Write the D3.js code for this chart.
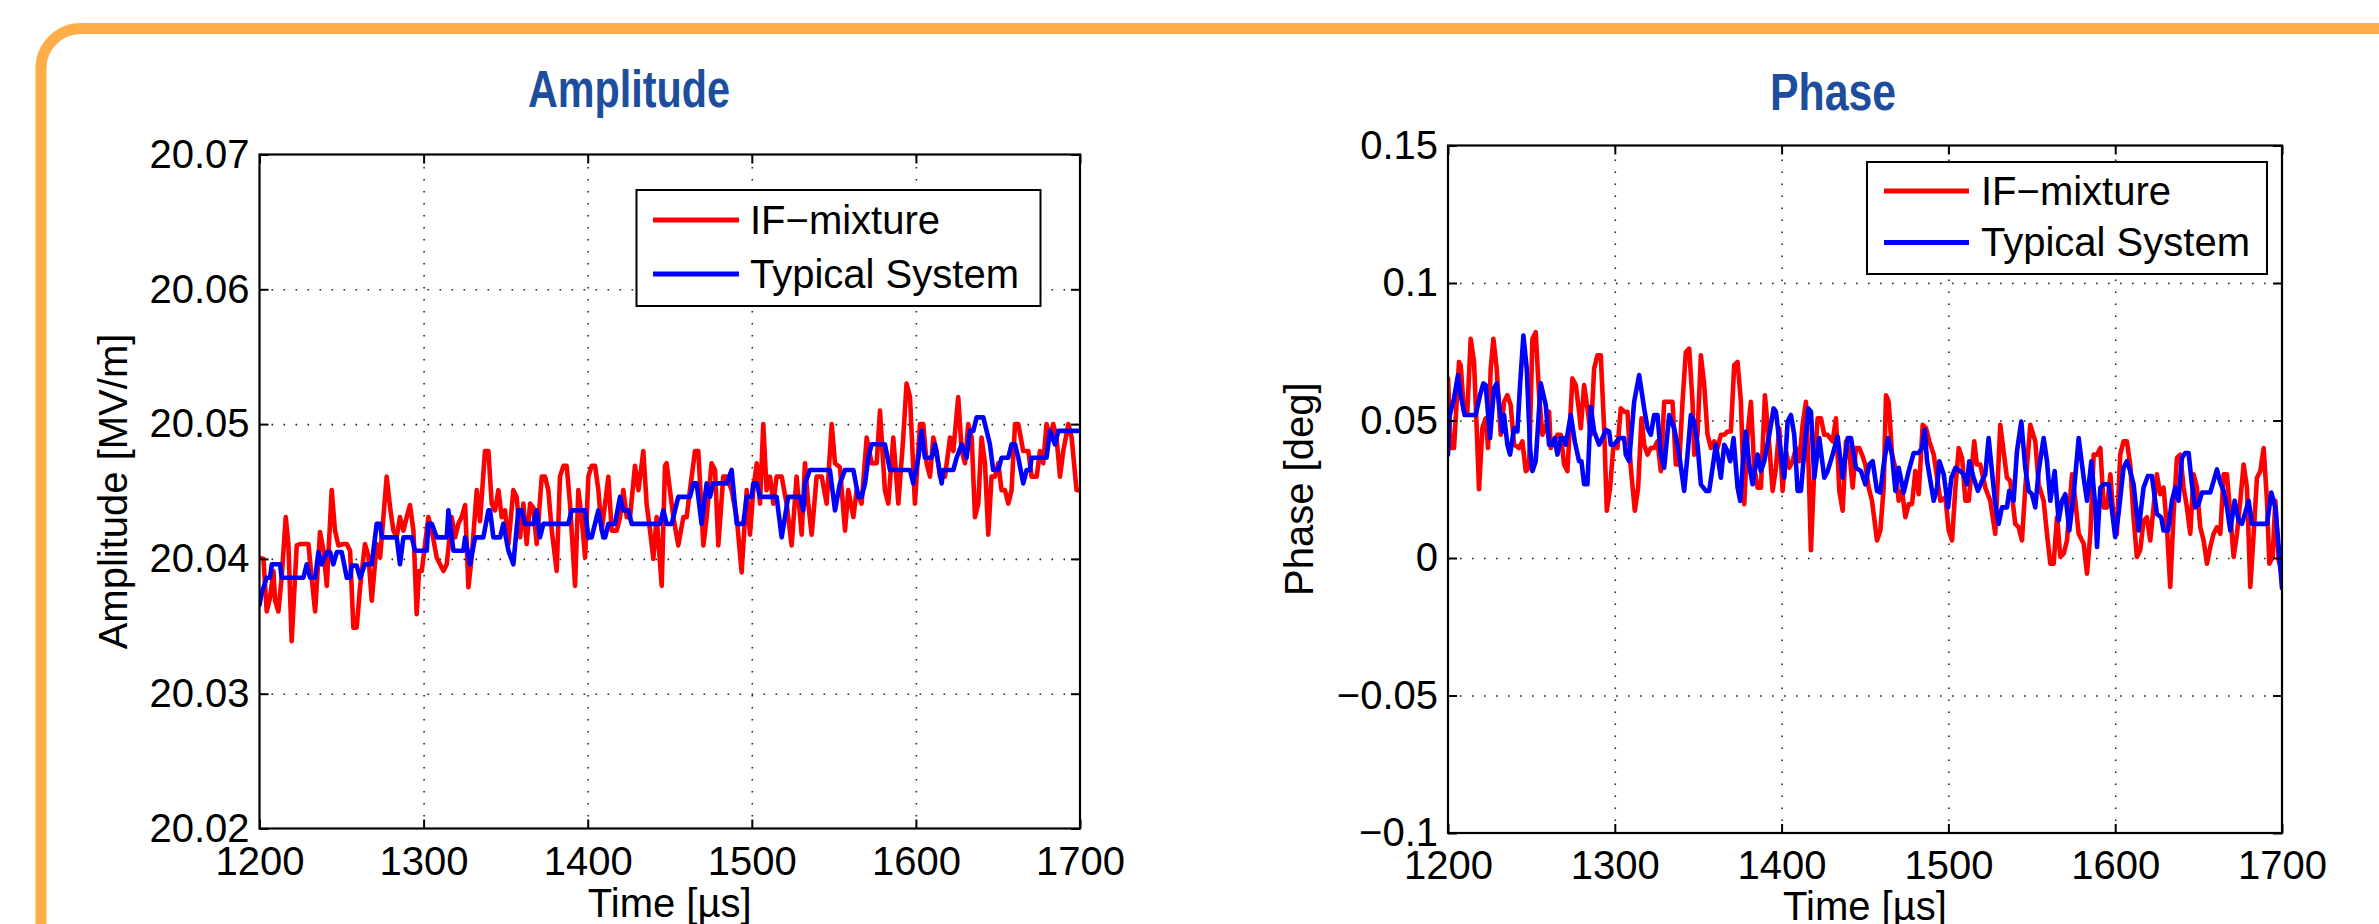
<!DOCTYPE html>
<html>
<head>
<meta charset="utf-8">
<script src="https://cdn.jsdelivr.net/npm/d3@7"></script>
<style>
html,body{margin:0;padding:0;background:#fff;}
svg{display:block;}
text{font-family:"Liberation Sans",Arial,Helvetica,sans-serif;}
</style>
</head>
<body>
<svg id="chart" width="2379" height="924"></svg>
<script>
// ---------------- DATA ----------------
const timeTicks = [1200, 1300, 1400, 1500, 1600, 1700];
const timeTickLabels = ["1200", "1300", "1400", "1500", "1600", "1700"];
const ampTicks = [20.02, 20.03, 20.04, 20.05, 20.06, 20.07];
const ampTickLabels = ["20.02", "20.03", "20.04", "20.05", "20.06", "20.07"];
const phaseTicks = [-0.1, -0.05, 0, 0.05, 0.1, 0.15];
const phaseTickLabels = ["\u22120.1", "\u22120.05", "0", "0.05", "0.1", "0.15"];
const seriesNames = ["IF\u2212mixture", "Typical System"];
const panelTitles = ["Amplitude", "Phase"];
const yAxisTitles = ["Amplitude [MV/m]", "Phase [deg]"];
const xAxisTitle = "Time [\u00b5s]";

// Amplitude, IF-mixture  [time µs, MV/m]
const ampIF = [[1200,20.0401],[1202.4,20.0400],[1204.4,20.0361],[1206.4,20.0371],[1208.5,20.0391],[1209.5,20.0369],[1211.5,20.0361],[1213.5,20.0386],[1216,20.0431],[1217.6,20.0411],[1219.6,20.0339],[1222.7,20.0410],[1224.7,20.0411],[1229.8,20.0411],[1231.8,20.0386],[1233.9,20.0361],[1236.9,20.0420],[1239,20.0406],[1241,20.0380],[1244,20.0451],[1246,20.0421],[1248.1,20.0410],[1251.1,20.0411],[1253.2,20.0411],[1255.2,20.0406],[1257.2,20.0349],[1259.2,20.0349],[1261.3,20.0379],[1264.3,20.0411],[1266.4,20.0402],[1268.4,20.0369],[1271.4,20.0411],[1273.5,20.0401],[1277.5,20.0461],[1279.6,20.0438],[1281.6,20.0421],[1283.6,20.0416],[1285.6,20.0431],[1287.7,20.0421],[1289.7,20.0431],[1291.7,20.0440],[1293.8,20.0421],[1295.8,20.0359],[1297.2,20.0391],[1298.9,20.0391],[1300.9,20.0411],[1302.9,20.0431],[1305,20.0421],[1308,20.0401],[1310,20.0396],[1312.1,20.0391],[1314.1,20.0396],[1317.1,20.0431],[1319.2,20.0416],[1321.2,20.0426],[1323.2,20.0431],[1325.3,20.0440],[1327.3,20.0379],[1329.3,20.0401],[1332.4,20.0451],[1334.4,20.0428],[1337.4,20.0480],[1339.5,20.0480],[1341.5,20.0441],[1343.5,20.0436],[1345.6,20.0451],[1347.6,20.0431],[1349.6,20.0436],[1351.7,20.0411],[1354.7,20.0451],[1356.7,20.0446],[1358.8,20.0416],[1360.8,20.0441],[1362.8,20.0411],[1364.9,20.0441],[1366.9,20.0438],[1368.9,20.0411],[1372,20.0461],[1374,20.0461],[1376,20.0451],[1378.1,20.0421],[1381.1,20.0391],[1383.1,20.0461],[1385.2,20.0469],[1387.2,20.0469],[1389.2,20.0441],[1392.3,20.0380],[1394.3,20.0451],[1396.3,20.0431],[1398.4,20.0401],[1400.4,20.0461],[1402.4,20.0469],[1404.5,20.0469],[1406.5,20.0451],[1408.5,20.0421],[1410.6,20.0441],[1412.6,20.0461],[1414.6,20.0421],[1417.7,20.0421],[1419.7,20.0431],[1421.7,20.0451],[1423.8,20.0431],[1425.8,20.0431],[1428.8,20.0469],[1430.9,20.0451],[1433.9,20.0480],[1435.9,20.0441],[1438,20.0421],[1440,20.0400],[1442,20.0431],[1445.1,20.0380],[1447.1,20.0469],[1448.1,20.0471],[1450.1,20.0451],[1452.2,20.0431],[1455.2,20.0410],[1458.3,20.0431],[1460.3,20.0431],[1462.3,20.0451],[1465.4,20.0480],[1467.4,20.0480],[1470.5,20.0410],[1472.5,20.0431],[1475.5,20.0471],[1477.6,20.0466],[1479.6,20.0410],[1482.6,20.0461],[1484.7,20.0461],[1487.7,20.0451],[1490.8,20.0431],[1493.8,20.0390],[1496.9,20.0451],[1498.9,20.0418],[1500.9,20.0451],[1503,20.0471],[1505,20.0441],[1507,20.0500],[1509,20.0451],[1511.1,20.0461],[1513.1,20.0441],[1515.1,20.0461],[1518.2,20.0461],[1521.2,20.0441],[1524.3,20.0410],[1527.3,20.0461],[1530.4,20.0418],[1532.4,20.0471],[1534.4,20.0441],[1536.5,20.0418],[1539.5,20.0461],[1542.6,20.0461],[1545.6,20.0441],[1548.7,20.0500],[1550.7,20.0471],[1553.7,20.0468],[1556.8,20.0421],[1558.8,20.0451],[1561.9,20.0431],[1563.9,20.0451],[1566.9,20.0441],[1570,20.0490],[1573,20.0471],[1576.1,20.0471],[1578.1,20.0510],[1581.1,20.0451],[1583.2,20.0441],[1586.2,20.0490],[1589.3,20.0441],[1592.3,20.0490],[1594.3,20.0530],[1596.4,20.0520],[1599.4,20.0441],[1602.5,20.0500],[1604.5,20.0500],[1606.5,20.0471],[1608.6,20.0461],[1610.6,20.0490],[1612.6,20.0480],[1614.7,20.0461],[1617.7,20.0461],[1620.8,20.0490],[1622.8,20.0480],[1625.8,20.0520],[1627.9,20.0480],[1629.9,20.0471],[1631.9,20.0500],[1634,20.0490],[1636,20.0431],[1638,20.0441],[1640,20.0490],[1642.1,20.0471],[1644.1,20.0418],[1646.1,20.0461],[1648.2,20.0461],[1650.2,20.0471],[1652.2,20.0451],[1654.3,20.0451],[1656.3,20.0441],[1658.3,20.0451],[1660.4,20.0500],[1662.4,20.0500],[1665.4,20.0480],[1668.5,20.0480],[1670.5,20.0461],[1673.6,20.0461],[1675.6,20.0480],[1677.6,20.0471],[1679.6,20.0500],[1681.7,20.0490],[1683.7,20.0500],[1685.7,20.0490],[1687.8,20.0461],[1689.8,20.0480],[1692.9,20.0500],[1694.9,20.0490],[1697.9,20.0451],[1700,20.0451]];

// Amplitude, Typical System
const ampTS = [[1200,20.0366],[1201.4,20.0375],[1204.4,20.0386],[1206.4,20.0386],[1207.5,20.0396],[1212.5,20.0396],[1213.5,20.0386],[1226.7,20.0386],[1228.8,20.0396],[1230.8,20.0386],[1233.9,20.0386],[1235.9,20.0405],[1237.9,20.0396],[1241,20.0405],[1243,20.0405],[1245,20.0396],[1247.1,20.0405],[1250.1,20.0405],[1253.2,20.0386],[1255.2,20.0386],[1256.2,20.0395],[1259.2,20.0395],[1261.3,20.0386],[1264.3,20.0396],[1268.4,20.0396],[1271.4,20.0426],[1273.5,20.0426],[1274.5,20.0416],[1283.6,20.0416],[1285.6,20.0396],[1287.7,20.0416],[1292.8,20.0416],[1294.8,20.0406],[1301.9,20.0406],[1302.9,20.0426],[1305,20.0426],[1308,20.0416],[1314.1,20.0416],[1315.1,20.0436],[1318.2,20.0406],[1324.2,20.0406],[1325.3,20.0416],[1328.3,20.0396],[1331.4,20.0416],[1336.4,20.0416],[1339.5,20.0436],[1340.5,20.0436],[1342.5,20.0416],[1346.6,20.0416],[1348.6,20.0426],[1351.7,20.0406],[1354.7,20.0396],[1357.7,20.0436],[1359.8,20.0436],[1361.8,20.0426],[1366.9,20.0426],[1368.9,20.0436],[1370.9,20.0416],[1373,20.0426],[1388.2,20.0426],[1390.2,20.0436],[1398.4,20.0436],[1400.4,20.0416],[1402.4,20.0416],[1406.5,20.0436],[1409.5,20.0416],[1410.6,20.0416],[1412.6,20.0426],[1416.6,20.0426],[1419.7,20.0446],[1421.7,20.0436],[1424.8,20.0436],[1426.8,20.0426],[1444.1,20.0426],[1446.1,20.0436],[1448.1,20.0426],[1451.2,20.0426],[1453.2,20.0436],[1455.2,20.0446],[1462.3,20.0446],[1464.4,20.0456],[1466.4,20.0456],[1469.4,20.0426],[1472.5,20.0456],[1474.5,20.0446],[1476.5,20.0456],[1484.7,20.0456],[1487.7,20.0466],[1490.8,20.0426],[1494.8,20.0426],[1496.9,20.0446],[1499.9,20.0446],[1500.9,20.0456],[1503,20.0456],[1505,20.0446],[1515.1,20.0446],[1518.2,20.0416],[1522.2,20.0446],[1529.4,20.0446],[1531.4,20.0436],[1532.4,20.0456],[1535.4,20.0466],[1547.6,20.0466],[1550.7,20.0436],[1553.7,20.0456],[1556.8,20.0466],[1561.9,20.0466],[1564.9,20.0446],[1566.9,20.0446],[1569,20.0456],[1571,20.0475],[1573,20.0485],[1581.1,20.0485],[1584.2,20.0466],[1596.4,20.0466],[1598.4,20.0456],[1601.5,20.0475],[1603.5,20.0495],[1605.5,20.0475],[1609.6,20.0475],[1611.6,20.0485],[1615.7,20.0456],[1616.7,20.0466],[1622.8,20.0466],[1624.8,20.0475],[1627.9,20.0485],[1630.9,20.0475],[1632.9,20.0495],[1635,20.0495],[1637,20.0505],[1641.1,20.0505],[1643.1,20.0495],[1645.1,20.0485],[1647.1,20.0466],[1650.2,20.0466],[1652.2,20.0475],[1656.3,20.0475],[1658.3,20.0485],[1660.4,20.0485],[1662.4,20.0475],[1665.4,20.0456],[1667.5,20.0466],[1669.5,20.0466],[1670.5,20.0475],[1679.6,20.0475],[1681.7,20.0495],[1684.7,20.0485],[1686.8,20.0495],[1700,20.0495]];

// Phase, IF-mixture  [time µs, deg]
const phIF = [[1200,0.0653],[1201.6,0.0400],[1203.6,0.0400],[1206.6,0.0713],[1207.6,0.0701],[1209.6,0.0532],[1211.6,0.0532],[1213.6,0.0797],[1215.6,0.0713],[1217.2,0.0472],[1218.6,0.0250],[1220.6,0.0472],[1222.6,0.0508],[1224,0.0400],[1225.6,0.0689],[1227.2,0.0797],[1229.2,0.0689],[1231.6,0.0448],[1233.6,0.0568],[1235.6,0.0592],[1237.6,0.0556],[1239.6,0.0412],[1242.6,0.0400],[1244.6,0.0424],[1246.6,0.0316],[1248.6,0.0328],[1250.6,0.0797],[1252.6,0.0821],[1254.6,0.0592],[1256.6,0.0448],[1258.6,0.0472],[1260.6,0.0532],[1261.6,0.0400],[1265.6,0.0448],[1267.6,0.0448],[1269.6,0.0340],[1271.6,0.0316],[1274.6,0.0653],[1276.6,0.0629],[1278.6,0.0532],[1279.6,0.0472],[1281.6,0.0629],[1283.6,0.0544],[1285.6,0.0448],[1287.6,0.0689],[1289.6,0.0737],[1291.6,0.0737],[1293.6,0.0472],[1295.2,0.0172],[1297.2,0.0256],[1299.2,0.0412],[1301.6,0.0400],[1303.6,0.0544],[1305.6,0.0532],[1307.6,0.0532],[1309.6,0.0328],[1312,0.0172],[1314,0.0256],[1316,0.0508],[1317.6,0.0412],[1319.6,0.0376],[1321.6,0.0400],[1323.6,0.0400],[1325.6,0.0424],[1327.6,0.0316],[1329.6,0.0568],[1331.6,0.0568],[1334.6,0.0568],[1336.6,0.0340],[1338.6,0.0340],[1340.6,0.0568],[1342.6,0.0749],[1344.6,0.0761],[1346.6,0.0568],[1347.6,0.0376],[1349.6,0.0448],[1351.6,0.0737],[1353.6,0.0629],[1355.6,0.0448],[1357.6,0.0400],[1359.6,0.0424],[1361.6,0.0400],[1363.6,0.0448],[1365.6,0.0448],[1367.6,0.0460],[1369.6,0.0460],[1371.6,0.0701],[1373.6,0.0713],[1375.6,0.0568],[1377.6,0.0196],[1379.6,0.0448],[1381.6,0.0568],[1383.6,0.0328],[1385.6,0.0256],[1387.6,0.0256],[1390,0.0592],[1392.6,0.0412],[1394.6,0.0244],[1396.6,0.0328],[1398.6,0.0472],[1400.6,0.0244],[1402.6,0.0388],[1404.6,0.0328],[1406.6,0.0352],[1408.6,0.0400],[1410.6,0.0352],[1412.6,0.0484],[1414.6,0.0568],[1416.2,0.0328],[1417.6,0.0028],[1419.6,0.0328],[1421.6,0.0508],[1423.6,0.0508],[1425.6,0.0448],[1427.6,0.0448],[1430.6,0.0424],[1432.6,0.0508],[1434.6,0.0244],[1436.6,0.0172],[1438.6,0.0424],[1440.6,0.0388],[1442.6,0.0256],[1444.6,0.0400],[1446.6,0.0400],[1448.2,0.0376],[1450.2,0.0340],[1452.2,0.0256],[1454.2,0.0208],[1457.2,0.0064],[1459.2,0.0100],[1461.2,0.0256],[1462.6,0.0592],[1464.2,0.0568],[1466.2,0.0376],[1468.2,0.0328],[1470.2,0.0208],[1472.2,0.0244],[1474.2,0.0148],[1476.2,0.0196],[1478.2,0.0196],[1480.2,0.0316],[1482.2,0.0232],[1484.6,0.0484],[1486.6,0.0472],[1488.6,0.0424],[1491.2,0.0376],[1495.2,0.0208],[1498.2,0.0220],[1500.2,0.0100],[1502.2,0.0064],[1504.2,0.0256],[1506.2,0.0400],[1508.2,0.0364],[1510.2,0.0208],[1512.2,0.0208],[1515.5,0.0424],[1517.1,0.0340],[1519.1,0.0340],[1522.1,0.0256],[1525.1,0.0208],[1528.1,0.0088],[1531.1,0.0484],[1533.1,0.0388],[1535.1,0.0292],[1537.1,0.0280],[1540.1,0.0124],[1542.1,0.0112],[1544.1,0.0064],[1546.1,0.0256],[1549.1,0.0484],[1552.1,0.0424],[1554.1,0.0268],[1557.1,0.0208],[1559.1,0.0088],[1561.1,-0.0021],[1563.1,-0.0021],[1565.1,0.0148],[1567.1,0.0004],[1569.1,0.0016],[1571.1,0.0064],[1574.1,0.0304],[1576.1,0.0208],[1578.1,0.0088],[1581.1,0.0052],[1583.1,-0.0057],[1585.1,0.0088],[1587.1,0.0376],[1589.1,0.0376],[1591.1,0.0400],[1593.1,0.0184],[1595.1,0.0184],[1597.1,0.0304],[1599.1,0.0136],[1601,0.0088],[1603,0.0376],[1605,0.0424],[1607,0.0424],[1609,0.0340],[1611,0.0148],[1613,0.0004],[1615,0.0028],[1617,0.0136],[1619,0.0148],[1621,0.0064],[1623,0.0184],[1625,0.0304],[1627,0.0232],[1629,0.0256],[1631,0.0112],[1633,-0.0105],[1635,0.0160],[1637,0.0364],[1639,0.0376],[1641,0.0256],[1643,0.0184],[1645,0.0088],[1647,0.0304],[1649,0.0256],[1651,0.0112],[1653,0.0064],[1655,-0.0021],[1657,0.0040],[1659,0.0088],[1661,0.0112],[1663,0.0088],[1665,0.0304],[1667,0.0304],[1669,0.0160],[1671,0.0004],[1673,0.0088],[1675,0.0208],[1677,0.0340],[1679,0.0256],[1681,-0.0105],[1683,0.0088],[1685,0.0292],[1687,0.0316],[1689,0.0400],[1691,0.0208],[1692.4,-0.0021],[1694.4,0.0004],[1696,0.0208],[1698,-0.0009],[1700,-0.0057]];

// Phase, Typical System
const phTS = [[1200,0.0376],[1200.6,0.0508],[1203.6,0.0580],[1206,0.0665],[1207.6,0.0592],[1210,0.0520],[1216.6,0.0520],[1219.2,0.0592],[1221.2,0.0635],[1222.6,0.0629],[1225.2,0.0436],[1227.6,0.0617],[1229.2,0.0635],[1231.2,0.0532],[1232.6,0.0460],[1233.6,0.0520],[1235.6,0.0412],[1237.2,0.0376],[1239.6,0.0472],[1241.6,0.0460],[1243.2,0.0629],[1245.2,0.0809],[1247.2,0.0689],[1249.2,0.0400],[1250.6,0.0316],[1252.6,0.0352],[1255.6,0.0635],[1258.6,0.0556],[1260.6,0.0412],[1262.6,0.0412],[1264,0.0436],[1265.6,0.0376],[1267.6,0.0436],[1269.6,0.0436],[1270.6,0.0412],[1273.6,0.0520],[1276,0.0424],[1278.6,0.0352],[1280,0.0352],[1281.6,0.0268],[1283.6,0.0268],[1285.6,0.0550],[1287.6,0.0460],[1290.6,0.0412],[1292.6,0.0436],[1294.6,0.0466],[1296.6,0.0460],[1297.6,0.0412],[1299.6,0.0412],[1302.6,0.0436],[1305.6,0.0436],[1306.6,0.0376],[1308.6,0.0352],[1311.6,0.0568],[1314.6,0.0665],[1317.6,0.0544],[1319.6,0.0472],[1321.6,0.0448],[1323.6,0.0520],[1325.6,0.0520],[1327.6,0.0376],[1329.6,0.0328],[1332.6,0.0520],[1335.6,0.0472],[1338.6,0.0376],[1341.6,0.0244],[1343.6,0.0376],[1345.6,0.0520],[1347.6,0.0496],[1349.6,0.0412],[1351.6,0.0268],[1354.6,0.0244],[1356.6,0.0244],[1360.6,0.0412],[1363.6,0.0292],[1365.6,0.0412],[1367.6,0.0388],[1369.2,0.0352],[1371.2,0.0436],[1373.6,0.0256],[1375.2,0.0208],[1377.6,0.0412],[1378.6,0.0460],[1380.6,0.0340],[1382.6,0.0268],[1385.6,0.0376],[1387.6,0.0316],[1389.6,0.0352],[1392.6,0.0448],[1395.2,0.0544],[1396.6,0.0532],[1399.6,0.0376],[1401.6,0.0292],[1403.6,0.0496],[1405.6,0.0520],[1407.6,0.0448],[1409.6,0.0244],[1411.6,0.0244],[1413.6,0.0388],[1416,0.0544],[1417.6,0.0532],[1419.6,0.0292],[1422.6,0.0436],[1425.6,0.0292],[1427.6,0.0316],[1430.6,0.0376],[1433.6,0.0442],[1436.6,0.0292],[1439.6,0.0436],[1441.6,0.0436],[1444.6,0.0328],[1447.6,0.0316],[1450.2,0.0268],[1452.6,0.0340],[1454.6,0.0352],[1457.2,0.0244],[1459.2,0.0238],[1461.2,0.0340],[1463.8,0.0436],[1466.2,0.0376],[1468.2,0.0244],[1470.2,0.0328],[1473.2,0.0238],[1476.2,0.0316],[1479.2,0.0382],[1482.2,0.0382],[1484.2,0.0400],[1485.8,0.0466],[1487.2,0.0352],[1489.2,0.0280],[1491.2,0.0208],[1493.2,0.0256],[1494.6,0.0352],[1497.2,0.0304],[1499.8,0.0184],[1501.8,0.0292],[1504.2,0.0328],[1507.1,0.0316],[1509.1,0.0304],[1511.1,0.0268],[1512.5,0.0352],[1515.1,0.0292],[1517.7,0.0244],[1520.1,0.0280],[1522.1,0.0304],[1524.1,0.0436],[1526.5,0.0292],[1528.1,0.0196],[1530.1,0.0124],[1532.1,0.0184],[1535.1,0.0184],[1536.5,0.0244],[1539.1,0.0208],[1541.1,0.0388],[1543.7,0.0496],[1546.1,0.0328],[1548.1,0.0244],[1550.1,0.0232],[1552.1,0.0184],[1554.1,0.0316],[1557.1,0.0436],[1559.1,0.0352],[1561.1,0.0208],[1563.7,0.0316],[1566.1,0.0136],[1568.1,0.0208],[1570.1,0.0232],[1572.5,0.0100],[1575.1,0.0232],[1578.1,0.0436],[1581.1,0.0292],[1583.1,0.0208],[1585.7,0.0352],[1588.1,0.0184],[1589.1,0.0040],[1591.1,0.0256],[1593.1,0.0268],[1596.1,0.0268],[1598.1,0.0172],[1600,0.0076],[1602,0.0160],[1605,0.0328],[1607,0.0352],[1609,0.0316],[1611,0.0268],[1614,0.0100],[1617,0.0256],[1619.6,0.0298],[1622,0.0298],[1625,0.0160],[1627.6,0.0148],[1629,0.0100],[1631.6,0.0100],[1634,0.0208],[1636,0.0256],[1638,0.0208],[1640,0.0364],[1642,0.0382],[1644,0.0382],[1646,0.0268],[1648,0.0184],[1650,0.0196],[1652,0.0238],[1657,0.0238],[1661,0.0322],[1663,0.0274],[1665,0.0244],[1667,0.0184],[1669,0.0100],[1671.6,0.0208],[1674,0.0136],[1676,0.0124],[1680,0.0208],[1682,0.0124],[1691,0.0124],[1693.6,0.0238],[1696,0.0184],[1698,0.0040],[1700,-0.0110]];

// ---------------- DRAWING ----------------
const svg = d3.select("#chart");
svg.append("rect").attr("width", 2379).attr("height", 924).attr("fill", "#fff");

// orange rounded frame (continues past right and bottom edges)
svg.append("rect")
  .attr("x", 41).attr("y", 28.5)
  .attr("width", 2420).attr("height", 960)
  .attr("rx", 40).attr("ry", 40)
  .attr("fill", "none").attr("stroke", "#FFAD48").attr("stroke-width", 11);

const colors = ["#FF0000", "#0000FF"];
const fontSize = 40;

const panels = [
  {
    title: panelTitles[0], yTitle: yAxisTitles[0],
    x0: 259.5, x1: 1080, y0: 828.5, y1: 154.5,
    yDomain: [20.02, 20.07], yTicks: ampTicks, yLabels: ampTickLabels,
    series: [ampIF, ampTS],
    titleX: 528, titleY: 107, titleW: 202,
    yTitleX: 127, xTitleY: 917,
    legend: {x: 636.5, y: 190, w: 404, h: 116, row1: 220, row2: 274, lx0: 653, lx1: 739, tx: 750}
  },
  {
    title: panelTitles[1], yTitle: yAxisTitles[1],
    x0: 1448, x1: 2282, y0: 833, y1: 145.5,
    yDomain: [-0.1, 0.15], yTicks: phaseTicks, yLabels: phaseTickLabels,
    series: [phIF, phTS],
    titleX: 1770, titleY: 110, titleW: 126,
    yTitleX: 1313, xTitleY: 920,
    legend: {x: 1867, y: 162, w: 400, h: 112, row1: 191, row2: 242.5, lx0: 1884, lx1: 1969, tx: 1981}
  }
];

panels.forEach((p, pi) => {
  const x = d3.scaleLinear().domain([1200, 1700]).range([p.x0, p.x1]);
  const y = d3.scaleLinear().domain(p.yDomain).range([p.y0, p.y1]);
  const W = p.x1 - p.x0, H = p.y0 - p.y1;
  const g = svg.append("g");

  // title
  g.append("text")
    .attr("x", p.titleX).attr("y", p.titleY)
    .attr("font-size", 51).attr("font-weight", "bold")
    .attr("fill", "#1D4E9E")
    .attr("textLength", p.titleW).attr("lengthAdjust", "spacingAndGlyphs")
    .text(p.title);

  // dotted grid
  const gridX = g.append("g").attr("transform", `translate(0,${p.y0})`)
    .call(d3.axisBottom(x).tickValues(timeTicks.slice(1, -1)).tickSize(-H).tickFormat(""));
  const gridY = g.append("g").attr("transform", `translate(${p.x0},0)`)
    .call(d3.axisLeft(y).tickValues(p.yTicks.slice(1, -1)).tickSize(-W).tickFormat(""));
  [gridX, gridY].forEach(gg => {
    gg.select(".domain").remove();
    gg.selectAll("line").attr("stroke", "#222").attr("stroke-width", 1.6)
      .attr("stroke-dasharray", "1.6,10.4");
  });

  // clip
  const clipId = "clip" + pi;
  svg.append("clipPath").attr("id", clipId)
    .append("rect").attr("x", p.x0).attr("y", p.y1).attr("width", W).attr("height", H);

  const line = d3.line().x(d => x(d[0])).y(d => y(d[1]));
  const lines = g.append("g").attr("clip-path", `url(#${clipId})`);
  p.series.forEach((s, si) => {
    lines.append("path").datum(s)
      .attr("d", line)
      .attr("fill", "none")
      .attr("stroke", colors[si])
      .attr("stroke-width", 4.6)
      .attr("stroke-linejoin", "round")
      .attr("stroke-linecap", "round");
  });

  // axes: bottom with labels, left with labels, top/right ticks only (all ticks inward)
  const axB = g.append("g").attr("transform", `translate(0,${p.y0})`)
    .call(d3.axisBottom(x).tickValues(timeTicks).tickFormat((d, i) => timeTickLabels[i])
      .tickSizeInner(-9).tickSizeOuter(0).tickPadding(17.6));
  const axT = g.append("g").attr("transform", `translate(0,${p.y1})`)
    .call(d3.axisTop(x).tickValues(timeTicks).tickFormat("").tickSizeInner(-9).tickSizeOuter(0));
  const axL = g.append("g").attr("transform", `translate(${p.x0},0)`)
    .call(d3.axisLeft(y).tickValues(p.yTicks).tickFormat((d, i) => p.yLabels[i])
      .tickSizeInner(-9).tickSizeOuter(0).tickPadding(10));
  const axR = g.append("g").attr("transform", `translate(${p.x1},0)`)
    .call(d3.axisRight(y).tickValues(p.yTicks).tickFormat("").tickSizeInner(-9).tickSizeOuter(0));
  [axB, axT, axL, axR].forEach(a => {
    a.select(".domain").remove();
    a.selectAll("line").attr("stroke", "#000").attr("stroke-width", 2);
    a.selectAll("text").attr("font-size", fontSize).attr("fill", "#000")
      .attr("font-family", '"Liberation Sans",Arial,Helvetica,sans-serif');
  });

  // box
  g.append("rect").attr("x", p.x0).attr("y", p.y1).attr("width", W).attr("height", H)
    .attr("fill", "none").attr("stroke", "#000").attr("stroke-width", 2.2);

  // axis titles
  g.append("text")
    .attr("transform", `translate(${p.yTitleX},${(p.y0 + p.y1) / 2}) rotate(-90)`)
    .attr("text-anchor", "middle").attr("font-size", fontSize).attr("fill", "#000")
    .text(p.yTitle);
  g.append("text")
    .attr("x", (p.x0 + p.x1) / 2).attr("y", p.xTitleY)
    .attr("text-anchor", "middle").attr("font-size", fontSize).attr("fill", "#000")
    .text(xAxisTitle);

  // legend
  const L = p.legend;
  const lg = g.append("g");
  lg.append("rect").attr("x", L.x).attr("y", L.y).attr("width", L.w).attr("height", L.h)
    .attr("fill", "#fff").attr("stroke", "#000").attr("stroke-width", 2);
  seriesNames.forEach((name, i) => {
    const ry = i === 0 ? L.row1 : L.row2;
    lg.append("line").attr("x1", L.lx0).attr("x2", L.lx1).attr("y1", ry).attr("y2", ry)
      .attr("stroke", colors[i]).attr("stroke-width", 5);
    lg.append("text").attr("x", L.tx).attr("y", ry).attr("dy", "0.34em")
      .attr("font-size", fontSize).attr("fill", "#000").text(name);
  });
});
</script>
</body>
</html>
